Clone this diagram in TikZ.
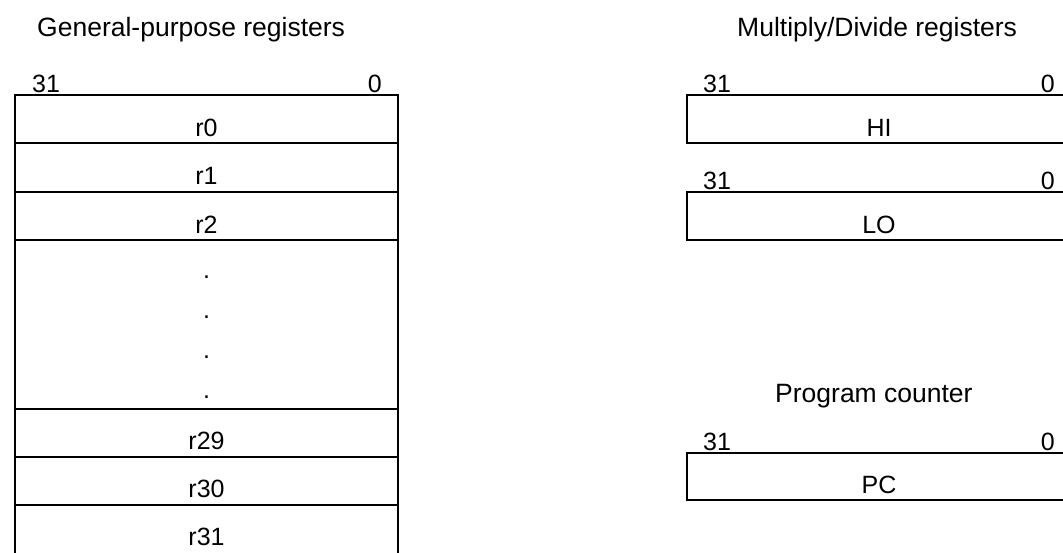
\documentclass[tikz,border=0pt]{standalone}
\usepackage{fontspec}
\setmainfont{Liberation Sans}
\begin{document}
\begin{tikzpicture}[x=1pt,y=-1pt,
  regline/.style={line width=2.4pt,black},
  lbl/.style={inner sep=0pt,anchor=base,font=\fontsize{25}{30}\selectfont},
  title/.style={inner sep=0pt,anchor=base west,font=\fontsize{26.5}{31}\selectfont},
  bitl/.style={inner sep=0pt,anchor=base west,font=\fontsize{25}{30}\selectfont},
  bitr/.style={inner sep=0pt,anchor=base east,font=\fontsize{25}{30}\selectfont}]
\useasboundingbox (0,0) rectangle (1063,552);
\clip (0,0) rectangle (1063,552);
\fill[white] (0,0) rectangle (1063,552);
% titles
\node[title] (tgp) at (37,36) {General-purpose registers};
\node[title] (tmd) at (737,36) {Multiply/Divide registers};
\node[title] (tpc) at (775,402) {Program counter};
% general-purpose register file
\draw[regline] (15,95) rectangle (398,560);
\foreach \yy in {143,192,240,409,457,505}
  \draw[regline] (15,\yy) -- (398,\yy);
\node[bitl] (gp31) at (32,92) {31};
\node[bitr] (gp0) at (382,92) {0};
\node[lbl] (r0) at (206.5,136) {r0};
\node[lbl] (r1) at (206.5,184.5) {r1};
\node[lbl] (r2) at (206.5,233) {r2};
\node[lbl] (d1) at (206.5,278) {.};
\node[lbl] (d2) at (206.5,318) {.};
\node[lbl] (d3) at (206.5,358) {.};
\node[lbl] (d4) at (206.5,398) {.};
\node[lbl] (r29) at (206.5,449.5) {r29};
\node[lbl] (r30) at (206.5,497.5) {r30};
\node[lbl] (r31) at (206.5,545.5) {r31};
% HI
\draw[regline] (687,95) rectangle (1071,143);
\node[bitl] (hi31) at (703,92) {31};
\node[bitr] (hi0) at (1055,92) {0};
\node[lbl] (hi) at (879,136) {HI};
% LO
\draw[regline] (687,192) rectangle (1071,240);
\node[bitl] (lo31) at (703,189) {31};
\node[bitr] (lo0) at (1055,189) {0};
\node[lbl] (lo) at (879,233) {LO};
% PC
\draw[regline] (687,453) rectangle (1071,500);
\node[bitl] (pc31) at (703,450) {31};
\node[bitr] (pc0) at (1055,450) {0};
\node[lbl] (pc) at (879,493) {PC};
\end{tikzpicture}
\end{document}
